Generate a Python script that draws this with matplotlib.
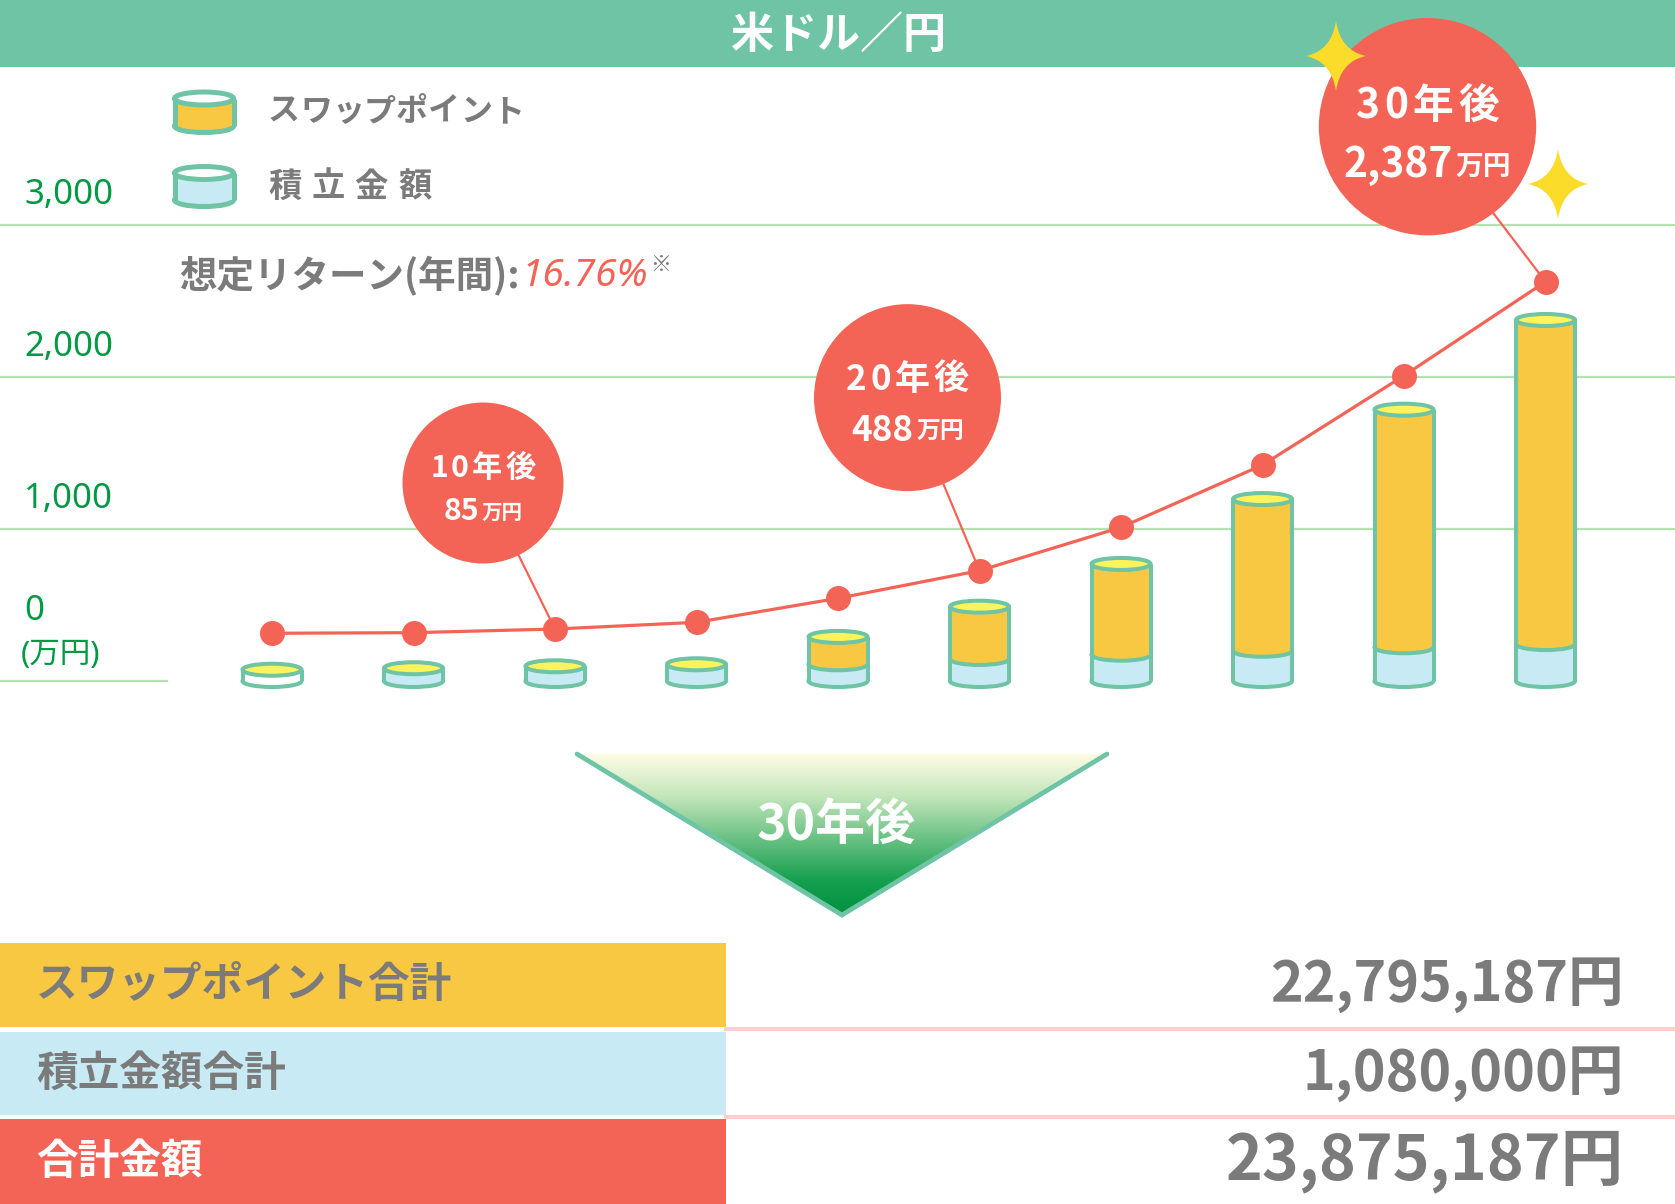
import numpy as np
import matplotlib
matplotlib.use("Agg")
import matplotlib.pyplot as plt
import matplotlib.transforms as mtransforms
from matplotlib.patches import Rectangle, Ellipse, Circle, Polygon, PathPatch
from matplotlib.path import Path
from matplotlib.colors import LinearSegmentedColormap

plt.rcParams['font.family'] = ['Noto Sans CJK JP', 'DejaVu Sans']

# data (万円)
periods = list(range(10))
tsumitate = [74, 84, 97, 110, 110, 145, 173, 199, 222, 243]
swap = [0, 0, 0, 0, 180, 344, 597, 998, 1563, 2132]
total_line = [314, 318, 342, 386, 544, 726, 1011, 1421, 2009, 2627]
ytick_vals = [0, 1000, 2000, 3000]
ytick_labels = ["0", "1,000", "2,000", "3,000"]
callout_idx = [2, 5, 9]
callout_years = ["10年後", "20年後", "30年後"]
callout_amounts = ["85", "488", "2,387"]
legend_labels = ["スワップポイント", "積立金額"]
table_labels = ["スワップポイント合計", "積立金額合計", "合計金額"]
table_totals = [22795187, 1080000, 23875187]
title = "米ドル／円"
return_rate = 16.76

MINT = "#6EC4A4"
GREEN = "#009944"
GRID = "#B6E0B2"
RED = "#F46456"
YEL = "#F9C843"
TOPYEL = "#FFF35C"
BLUE = "#C8EAF4"
GRAY = "#7B7B7B"
PINK = "#FFCFCF"
STAR = "#FCDC2A"

W, H = 1675, 1204
fig = plt.figure(figsize=(W / 100, H / 100), dpi=100)
ax = fig.add_axes([0, 0, 1, 1])
ax.axis("off")

# chart scale: 0 -> 681px from top, 3000 -> 225px
ppu = (681 - 225) / 3000
ax.set_ylim((681 - H) / ppu, 681 / ppu)
x0, step = 272, 141.5
ax.set_xlim(-x0 / step, (W - x0) / step)
ax.set_autoscale_on(False)

# pixel coords measured from top-left
pix = mtransforms.Affine2D().scale(1, -1).translate(0, H)
renderer = fig.canvas.get_renderer()


def to_px(x, y):
    dx, dy = ax.transData.transform((x, y))
    return dx, H - dy


def cylinder(cx, base, segs, w, eh, lw, top_fill, z=3):
    # segs: list of (top_y, colour) from the bottom up, pixel y grows downward
    ax.add_patch(Ellipse((cx, base), w, eh, fc=segs[0][1], ec=MINT, lw=lw,
                         transform=pix, zorder=z))
    y_prev = base
    for k, (ytop, col) in enumerate(segs):
        if y_prev - ytop < 0.5:
            continue
        if k > 0:
            ax.add_patch(Ellipse((cx, y_prev), w, eh, fc=col, ec=MINT, lw=lw,
                                 transform=pix, zorder=z))
        ax.add_patch(Rectangle((cx - w / 2, ytop), w, y_prev - ytop, fc=col,
                               ec="none", transform=pix, zorder=z))
        y_prev = ytop
    ax.add_patch(Ellipse((cx, y_prev), w, eh, fc=top_fill, ec=MINT, lw=lw,
                         transform=pix, zorder=z))
    for sx in (cx - w / 2, cx + w / 2):
        ax.plot([sx, sx], [base, y_prev], color=MINT, lw=lw, transform=pix,
                zorder=z, solid_capstyle="butt")


def spaced(x, y, s, gap, **kw):
    # draw text one character at a time with extra tracking
    for ch in s:
        t = ax.text(x, y, ch, transform=pix, ha="left", va="center", **kw)
        x += t.get_window_extent(renderer).width + gap
    return x


# header
ax.add_patch(Rectangle((0, 0), W, 67, fc=MINT, ec="none", transform=pix, zorder=1))
ax.text(838, 35, title, transform=pix, ha="center", va="center", color="white",
        fontsize=31, fontweight="bold", zorder=2)

# grid + y labels
yfam = ['Noto Sans', 'Noto Sans CJK JP']
for v, lab in zip(ytick_vals, ytick_labels):
    y = to_px(0, v)[1]
    if v == 0:
        ax.axhline(v, xmin=0, xmax=167 / W, color=GRID, lw=1.6, zorder=1)
        ax.text(24, y - 70, lab, transform=pix, ha="left", va="center", color=GREEN,
                fontsize=25, family=yfam, fontweight="medium")
        ax.text(21, y - 26, "(万円)", transform=pix, ha="left", va="center", color=GREEN,
                fontsize=22, family=yfam)
    else:
        ax.axhline(v, color=GRID, lw=1.6, zorder=1)
        ax.text(24, y - 30, lab, transform=pix, ha="left", va="center", color=GREEN,
                fontsize=25, family=yfam, fontweight="medium")

# legend
cylinder(204, 126, [(98.5, YEL)], 59, 13, 3.6, "white")
cylinder(204, 200, [(173, BLUE)], 59, 13, 3.6, "white")
spaced(268, 112, legend_labels[0], 0, color=GRAY, fontsize=23, fontweight="bold")
spaced(268, 187, legend_labels[1], 10, color=GRAY, fontsize=24, fontweight="bold")

# return note
t = ax.text(179, 276, "想定リターン(年間):", transform=pix, ha="left", va="center",
            color=GRAY, fontsize=27, fontweight="bold")
xr = 179 + t.get_window_extent(renderer).width + 2
t = ax.text(xr, 276, f"{return_rate:.2f}%", transform=pix, ha="left", va="center",
            color=RED, fontsize=28, style="italic", fontweight="bold",
            family=['Noto Sans', 'DejaVu Sans'])
xr += t.get_window_extent(renderer).width + 2
ax.text(xr, 264, "※", transform=pix, ha="left", va="center", color=GRAY,
        fontsize=15, fontweight="bold")

# bars
body_cols = ["white"] + [BLUE] * 9
for i in periods:
    cx, base = to_px(i, 0)
    yb = to_px(i, tsumitate[i])[1]
    ys = to_px(i, tsumitate[i] + swap[i])[1]
    cylinder(cx, base, [(yb, body_cols[i]), (ys, YEL)], 59, 12, 2.9, TOPYEL)

# total line
ax.plot(periods, total_line, color=RED, lw=2.3, marker="o", ms=18, mec="none", zorder=5)

# callout bubbles
offsets = [(-72, -146), (-72, -173), (-118, -155)]
radii = [80.5, 93.5, 108.7]
for idx, yr, amt, (ox, oy), r in zip(callout_idx, callout_years, callout_amounts, offsets, radii):
    px, py = to_px(idx, total_line[idx])
    cx, cy = px + ox, py + oy
    ax.plot([px, cx], [py, cy], color=RED, lw=1.6, transform=pix, zorder=4)
    ax.add_patch(Circle((cx, cy), r, fc=RED, ec="none", transform=pix, zorder=6))
    fs = r * 0.27
    gap = r * 0.04
    t0 = ax.text(0, 0, yr, transform=pix, ha="left", va="center",
                 color="white", fontsize=fs, fontweight="bold", zorder=7)
    w0 = t0.get_window_extent(renderer).width + gap * (len(yr) - 1)
    t0.remove()
    spaced(cx - w0 / 2, cy - 0.19 * r, yr, gap, color="white", fontsize=fs,
           fontweight="bold", zorder=7)
    t1 = ax.text(0, 0, amt, transform=pix, ha="left", va="center", color="white",
                 fontsize=fs, fontweight="bold", zorder=7)
    t2 = ax.text(0, 0, "万円", transform=pix, ha="left", va="center", color="white",
                 fontsize=fs * 0.68, fontweight="bold", zorder=7)
    w1 = t1.get_window_extent(renderer).width
    w2 = t2.get_window_extent(renderer).width
    xs = cx - (w1 + w2 + 3) / 2
    t1.set_position((xs, cy + 0.35 * r))
    t2.set_position((xs + w1 + 3, cy + 0.37 * r))


# sparkles
def star(cx, cy, rx, ry, c=0.15):
    verts = [(cx, cy - ry), (cx + c * rx, cy - c * ry), (cx + rx, cy),
             (cx + c * rx, cy + c * ry), (cx, cy + ry), (cx - c * rx, cy + c * ry),
             (cx - rx, cy), (cx - c * rx, cy - c * ry), (cx, cy - ry)]
    codes = [Path.MOVETO] + [Path.CURVE3] * 8
    ax.add_patch(PathPatch(Path(verts, codes), fc=STAR, ec="none", transform=pix, zorder=8))


star(1336, 56, 30, 35)
star(1558, 184, 30, 35)

# arrow triangle with gradient
tri = [(577, 754), (1107, 754), (842, 915)]
tri_patch = Polygon(tri, closed=True, fc="none", ec="none", transform=pix, zorder=2)
ax.add_patch(tri_patch)
cmap = LinearSegmentedColormap.from_list(
    "g", [(0, "#FDFCE4"), (0.25, "#C6E7BD"), (0.5, "#72C588"), (0.78, "#16A050"),
          (1, "#00913E")])
grad = np.linspace(0, 1, 256).reshape(-1, 1)
im = ax.imshow(grad, cmap=cmap, extent=(577, 1107, 915, 754), transform=pix,
               aspect="auto", zorder=2, interpolation="bilinear")
im.set_clip_path(tri_patch)
ax.plot([577, 842, 1107], [754, 915, 754], color=MINT, lw=3.4, transform=pix,
        zorder=3, solid_capstyle="round", solid_joinstyle="miter")
ax.text(836, 825, "30年後", transform=pix, ha="center", va="center", color="white",
        fontsize=36, fontweight="bold", zorder=4)

# summary table
row_y = [(943, 1027), (1032, 1115), (1119, 1204)]
row_cols = [YEL, BLUE, RED]
label_cols = [GRAY, GRAY, "white"]
val_sizes = [40, 40, 45]
for (ya, yb), col, lab, lc, tot, vs in zip(row_y, row_cols, table_labels, label_cols,
                                            table_totals, val_sizes):
    yc = (ya + yb) / 2
    ax.add_patch(Rectangle((0, ya), 726, yb - ya, fc=col, ec="none", transform=pix, zorder=1))
    ax.text(36, yc, lab, transform=pix, ha="left", va="center", color=lc,
            fontsize=30, fontweight="bold")
    ax.text(1624, yc, f"{tot:,}円", transform=pix, ha="right", va="center", color=GRAY,
            fontsize=vs, fontweight="bold")
for yl in (1029, 1117):
    ax.plot([726, W], [yl, yl], color=PINK, lw=3, transform=pix, zorder=1)

fig.savefig("out.png", dpi=100)
